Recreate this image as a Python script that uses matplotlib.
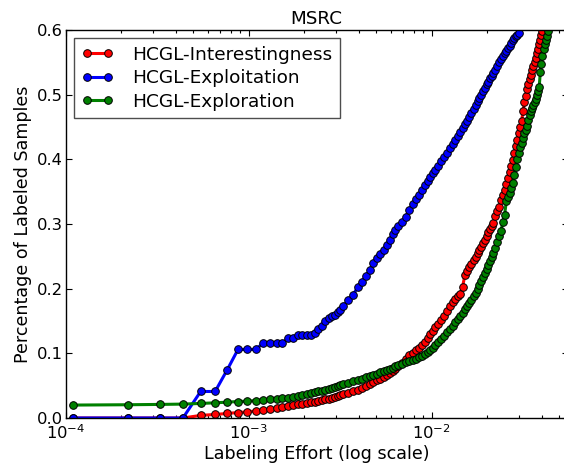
import numpy as np
import matplotlib
matplotlib.use("Agg")
import matplotlib.pyplot as plt
from matplotlib.ticker import FormatStrFormatter, LogLocator

# number of samples in the pool (labeling effort = queries / n_samples)
n_samples = 9130

queries = [1, 2, 3, 4, 5, 6, 7, 8, 9, 10, 11, 12, 13, 14, 15, 16, 17, 18, 19, 20,
           21, 22, 23, 24, 25, 26, 27, 28, 29, 30,
           32, 34, 36, 38, 40, 42, 44, 46, 48, 50, 52, 54, 56, 58, 60,
           63, 66, 69, 72, 75, 78, 81, 84, 87, 90, 93, 96, 99,
           103, 107, 111, 115, 119, 123, 127, 131, 135, 139, 143, 147, 151, 155,
           159, 163, 167, 171, 175, 179, 183, 187, 191, 195, 199,
           204, 209, 214, 219, 224, 229, 234, 239, 244, 249, 254, 259, 264, 269,
           274, 279, 284, 289, 294, 299, 304, 309, 314, 319, 324, 329, 334, 339,
           344, 349, 354, 359, 364, 369, 374, 379, 384, 389, 394, 399]

interestingness = [0, 0, 0, 0, .004, .0055, .007, .0085, .0095, .011, .0125, .014, .015, .0165,
                   .018, .020, .021, .022, .0227, .024, .025, .0265, .0275, .029, .030, .0315,
                   .033, .034, .0355, .037,
                   .039, .041, .044, .047, .050, .053, .056, .0585, .061, .0635, .066, .070,
                   .073, .0765, .080,
                   .085, .091, .097, .101, .105, .109, .113, .118, .124, .130, .135, .140, .145,
                   .151, .158, .165, .173, .180, .184, .188, .192, .203, .221, .227, .233, .238,
                   .244, .249, .255, .260, .265, .270, .275, .281, .287, .292, .297, .301,
                   .312, .320, .326, .337, .345, .353, .362, .371, .380, .389,
                   .399, .410, .420, .430, .440, .450, .460, .475, .488, .498,
                   .508, .517, .524, .531, .538, .545, .551, .557, .564, .571,
                   .578, .585, .592, .599, .606]

exploitation = [0, 0, 0, 0, .041, .041, .075, .106, .106, .106, .116, .116, .116, .116,
                .123, .123, .128, .129, .129, .129, .131, .137, .143, .150, .154, .157,
                .160, .164, .167, .173,
                .182, .190, .202, .211, .220, .229, .239, .247, .253, .260, .268, .276,
                .284, .291, .297,
                .303, .311, .322, .331, .339, .345, .352, .360, .367, .373, .379, .384, .390,
                .397, .403, .410, .417, .424, .430, .436, .442, .448, .454, .460, .466, .472,
                .478, .484, .490, .495, .500, .506, .511, .516, .520, .525, .529, .533,
                .538, .545, .550, .555, .560, .564, .568, .572, .576, .580, .584, .587,
                .590, .593, .596]

exploration = [.020, .0205, .021, .0215, .0225, .0235, .0245, .0255, .026, .027, .028, .029,
               .0295, .0305, .0315, .0325, .0335, .035, .037, .038, .0395, .041, .0425, .044,
               .045, .0465, .048, .0495, .051, .052,
               .0545, .057, .059, .061, .063, .065, .0667, .0687, .0707, .0727, .0745, .0765,
               .078, .080, .082,
               .084, .086, .088, .090, .092, .094, .096, .099, .102, .105, .109, .113, .117,
               .122, .127, .133, .138, .143, .148, .153, .157, .163, .168, .173, .178, .183,
               .188, .194, .200, .206, .212, .218, .224, .230, .236, .243, .249, .255,
               .263, .272, .281, .289, .303, .314, .335, .342, .348, .355,
               .364, .376, .388, .400, .410, .419, .426, .433, .440, .446,
               .452, .461, .469, .474, .479, .484, .489, .494, .499, .505,
               .512, .535, .548, .560, .571, .578, .585, .591, .598]

series = [("HCGL-Interestingness", interestingness, "red"),
          ("HCGL-Exploitation", exploitation, "blue"),
          ("HCGL-Exploration", exploration, "green")]

fig = plt.figure(figsize=(5.64, 4.72), dpi=100)
ax = fig.add_axes([65.5 / 564, 54 / 472, 502 / 564, 388 / 472])

effort = np.array(queries) / n_samples
for name, vals, col in series:
    ax.plot(effort[:len(vals)], vals, "-o", color=col, lw=2.2, ms=5.5,
            mec="black", mew=0.7, label=name)

ax.set_xscale("log")
ax.set_xlim(1e-4, 10 ** (-4 + 502 / 183))
ax.set_ylim(0, 0.6)
ax.yaxis.set_major_formatter(FormatStrFormatter("%.1f"))
ax.xaxis.set_minor_locator(LogLocator(base=10, subs=np.arange(2, 10)))

ax.tick_params(which="both", direction="in", top=True, right=True, labelsize=11.8,
               width=0.8)
ax.tick_params(axis="y", pad=2)
ax.tick_params(axis="x", pad=4)
ax.tick_params(which="major", length=4.5)
ax.tick_params(which="minor", length=2)
for sp in ax.spines.values():
    sp.set_linewidth(1.0)

ax.set_title("MSRC", fontsize=13.2, pad=4)
ax.set_xlabel("Labeling Effort (log scale)", fontsize=12.6, labelpad=2)
ax.set_ylabel("Percentage of Labeled Samples", fontsize=12.6, labelpad=3)

leg = ax.legend(loc="upper left", numpoints=2, fontsize=13.3, fancybox=False,
                framealpha=1, edgecolor="0.3", handlelength=1.75, handletextpad=1.0,
                labelspacing=0.3, borderpad=0.4, borderaxespad=0.45)
leg.get_frame().set_linewidth(1.0)

fig.savefig("out.png", dpi=100)
